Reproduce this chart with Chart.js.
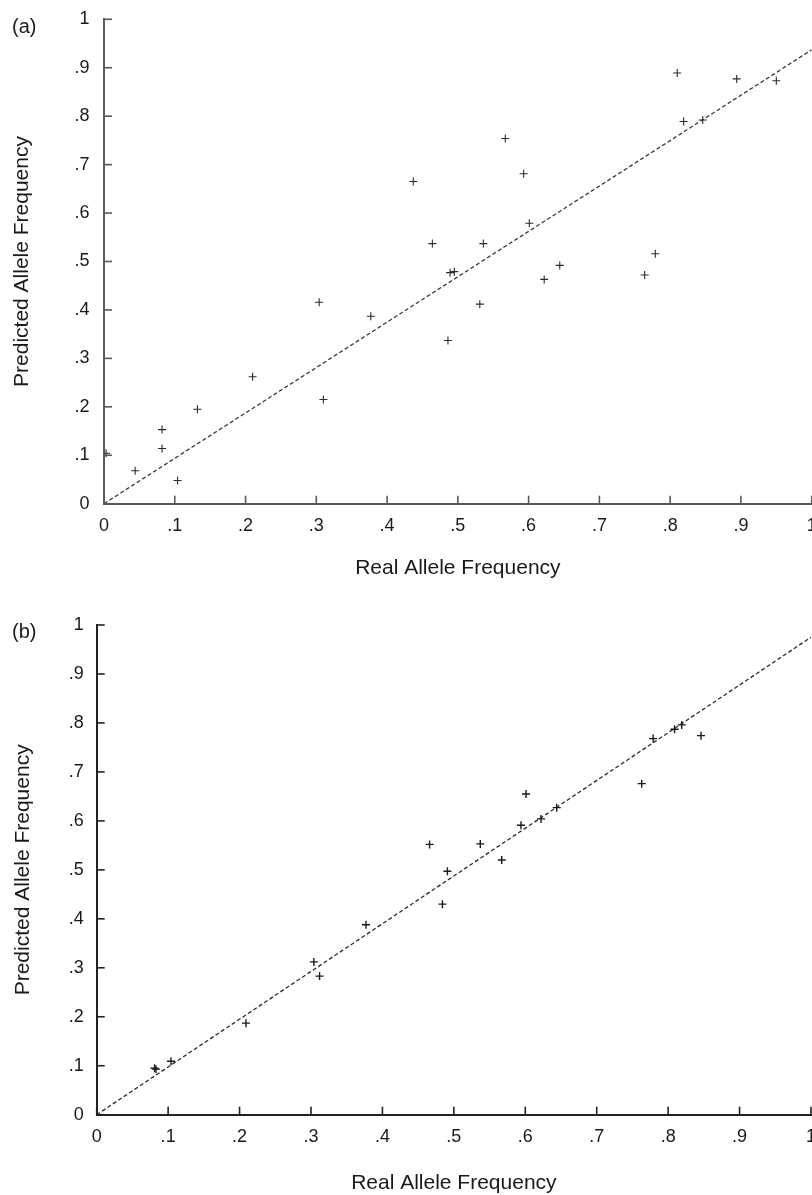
<!DOCTYPE html>
<html>
<head>
<meta charset="utf-8">
<script src="https://cdn.jsdelivr.net/npm/chart.js@4/dist/chart.umd.min.js"></script>
<style>
  html, body { margin: 0; padding: 0; width: 812px; height: 1195px; overflow: hidden; background: #fff; }
  .wrap { position: absolute; left: 0; }
  .panel-label { position: absolute; font-family: "Liberation Sans", Arial, sans-serif; font-size: 20px; line-height: 20px; color: #1a1a1a; }
  canvas { display: block; }
</style>
</head>
<body>
<div class="wrap" style="top:0;"><canvas id="chartA" width="840" height="581"></canvas></div>
<div class="wrap" style="top:600px;"><canvas id="chartB" width="840" height="596"></canvas></div>
<div class="panel-label" style="left:12px; top:16px;">(a)</div>
<div class="panel-label" style="left:12px; top:621px;">(b)</div>
<script>
// ---- data ----
const realA = [0.003, 0.044, 0.082, 0.082, 0.104, 0.132, 0.210, 0.304, 0.310, 0.377, 0.437, 0.464, 0.486, 0.489, 0.495, 0.531, 0.536, 0.567, 0.593, 0.601, 0.622, 0.644, 0.764, 0.779, 0.810, 0.819, 0.846, 0.894, 0.950];
const predA = [0.104, 0.068, 0.153, 0.114, 0.048, 0.195, 0.262, 0.416, 0.215, 0.387, 0.665, 0.537, 0.337, 0.477, 0.479, 0.412, 0.537, 0.754, 0.681, 0.579, 0.463, 0.492, 0.472, 0.516, 0.889, 0.789, 0.792, 0.877, 0.873];

const realB = [0.081, 0.083, 0.104, 0.209, 0.304, 0.312, 0.377, 0.466, 0.484, 0.491, 0.537, 0.567, 0.594, 0.601, 0.622, 0.644, 0.763, 0.779, 0.809, 0.819, 0.846];
const predB = [0.095, 0.093, 0.109, 0.187, 0.312, 0.283, 0.388, 0.552, 0.430, 0.497, 0.553, 0.520, 0.591, 0.655, 0.604, 0.627, 0.676, 0.768, 0.787, 0.796, 0.774];

const fitX = [0, 1];
const fitA = [0, 0.937];
const fitB = [0, 0.975];

const xTitle = "Real Allele Frequency";
const yTitle = "Predicted Allele Frequency";
const tickValues = [0, 0.1, 0.2, 0.3, 0.4, 0.5, 0.6, 0.7, 0.8, 0.9, 1];
const tickLabels = ["0", ".1", ".2", ".3", ".4", ".5", ".6", ".7", ".8", ".9", "1"];

const FONT = '"Liberation Sans", Arial, Helvetica, sans-serif';

function toPoints(xs, ys) { return xs.map((x, i) => ({ x: x, y: ys[i] })); }
function fmt(v) {
  const idx = tickValues.findIndex(t => Math.abs(t - v) < 1e-6);
  return idx >= 0 ? tickLabels[idx] : '';
}

// inward-pointing tick marks drawn through the chart's own scales
const inwardTicks = {
  id: 'inwardTicks',
  afterDraw(chart, args, opts) {
    const { ctx, chartArea, scales } = chart;
    const len = 8;
    ctx.save();
    ctx.strokeStyle = opts.color || '#222';
    ctx.lineWidth = 1.6;
    tickValues.forEach(v => {
      const px = scales.x.getPixelForValue(v);
      ctx.beginPath();
      ctx.moveTo(px, chartArea.bottom);
      ctx.lineTo(px, chartArea.bottom - len);
      ctx.stroke();
      const py = scales.y.getPixelForValue(v);
      ctx.beginPath();
      ctx.moveTo(chartArea.left, py);
      ctx.lineTo(chartArea.left + len, py);
      ctx.stroke();
    });
    ctx.restore();
  }
};

function makeChart(id, cfg) {
  const ctx = document.getElementById(id);
  return new Chart(ctx, {
    type: 'scatter',
    data: {
      datasets: [
        {
          type: 'scatter',
          data: toPoints(cfg.xs, cfg.ys),
          pointStyle: 'cross',
          pointRadius: 4,
          pointBorderWidth: cfg.pointWidth,
          borderColor: cfg.pointColor,
          backgroundColor: cfg.pointColor,
          order: 1
        },
        {
          type: 'line',
          data: toPoints(fitX, cfg.fit),
          borderColor: cfg.lineColor,
          borderWidth: 1.3,
          borderDash: [4, 2.5],
          pointRadius: 0,
          fill: false,
          order: 2
        }
      ]
    },
    plugins: [inwardTicks],
    options: {
      responsive: false,
      animation: false,
      devicePixelRatio: 1,
      layout: { padding: { left: cfg.padLeft, top: cfg.padTop, right: cfg.padRight, bottom: 0 } },
      plugins: { legend: { display: false }, tooltip: { enabled: false }, inwardTicks: { color: cfg.axisColor } },
      events: [],
      scales: {
        x: {
          type: 'linear',
          min: 0, max: 1,
          afterBuildTicks: (s) => { s.ticks = tickValues.map(v => ({ value: v })); },
          afterFit: (s) => { s.height = cfg.xHeight; s.paddingLeft = 0; s.paddingRight = 0; s.paddingTop = 0; s.paddingBottom = 0; },
          border: { display: true, color: cfg.axisColor, width: 2 },
          grid: { display: false, drawOnChartArea: false, drawTicks: false },
          ticks: { callback: (v) => fmt(v), padding: 11.6, color: '#1a1a1a', font: { family: FONT, size: 18 }, maxRotation: 0, autoSkip: false },
          title: { display: true, text: xTitle, color: '#1a1a1a', font: { family: FONT, size: 21 }, padding: { top: 0, bottom: 0 } }
        },
        y: {
          type: 'linear',
          min: 0, max: 1,
          afterBuildTicks: (s) => { s.ticks = tickValues.map(v => ({ value: v })); },
          afterFit: (s) => { s.width = cfg.yWidth; s.paddingTop = 0; s.paddingBottom = 0; s.paddingLeft = 0; s.paddingRight = 0; },
          border: { display: true, color: cfg.axisColor, width: 2 },
          grid: { display: false, drawOnChartArea: false, drawTicks: false },
          ticks: { callback: (v) => fmt(v), padding: cfg.yTickPad, color: '#1a1a1a', font: { family: FONT, size: 18 }, autoSkip: false },
          title: { display: true, text: yTitle, color: '#1a1a1a', font: { family: FONT, size: 21 }, padding: { top: 0, bottom: 0 } }
        }
      }
    }
  });
}

makeChart('chartA', {
  xs: realA, ys: predA, fit: fitA,
  padLeft: 9.4, padTop: 19.3, padRight: 28.3,
  yWidth: 94.6, xHeight: 77.3, yTickPad: 14.5,
  axisColor: '#5a5a5a', pointColor: '#2a2a2a', lineColor: '#3a3a3a', pointWidth: 1.1
});

makeChart('chartB', {
  xs: realB, ys: predB, fit: fitB,
  padLeft: 10.4, padTop: 25, padRight: 29,
  yWidth: 86.3, xHeight: 81.3, yTickPad: 13,
  axisColor: '#222222', pointColor: '#1a1a1a', lineColor: '#2a2a2a', pointWidth: 1.4
});
</script>
</body>
</html>
